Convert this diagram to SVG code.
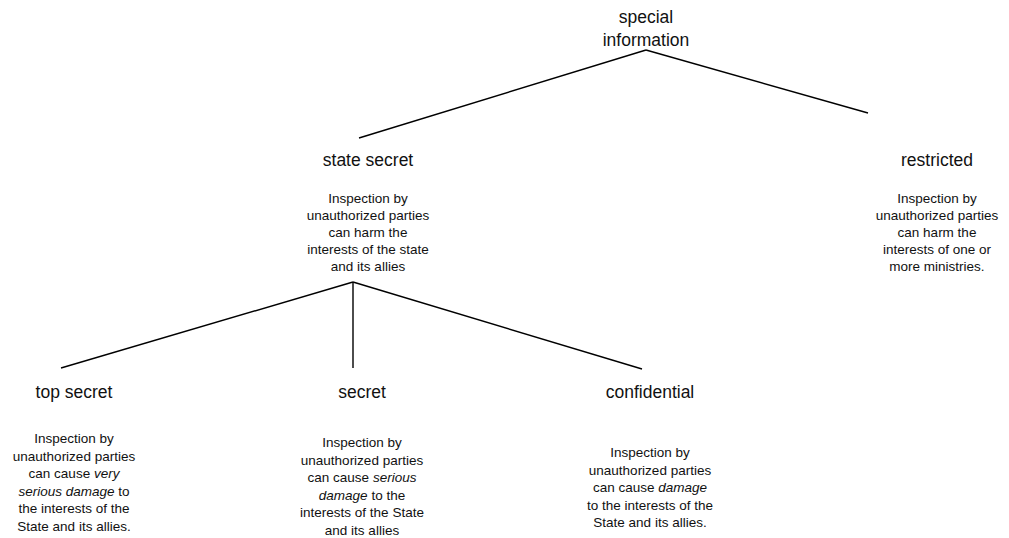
<svg xmlns="http://www.w3.org/2000/svg" width="1009" height="538" viewBox="0 0 1009 538">
  <style>
    text { font-family: "Liberation Sans", Arial, sans-serif; fill: #111; text-anchor: middle; }
    .label { font-size: 17.5px; }
    .body { font-size: 13.5px; }
    .it { font-style: italic; }
    .edge { stroke: #000; stroke-width: 1.4; fill: none; }
  </style>
  <rect width="1009" height="538" fill="#fff"/>

  <!-- connectors -->
  <g id="connectors">
    <line class="edge" x1="646" y1="50" x2="359" y2="138"/>
    <line class="edge" x1="646" y1="50" x2="868" y2="113"/>
    <line class="edge" x1="353" y1="282" x2="61" y2="368"/>
    <line class="edge" x1="353" y1="282" x2="353" y2="368"/>
    <line class="edge" x1="353" y1="282" x2="642" y2="369"/>
  </g>

  <!-- root -->
  <g id="special-information">
    <text class="label" x="646" y="23">special</text>
    <text class="label" x="646" y="46">information</text>
  </g>

  <g id="state-secret">
    <text class="label" x="368" y="166">state secret</text>
    <text class="body" x="368" y="203">Inspection by</text>
    <text class="body" x="368" y="220">unauthorized parties</text>
    <text class="body" x="368" y="237">can harm the</text>
    <text class="body" x="368" y="254">interests of the state</text>
    <text class="body" x="368" y="271">and its allies</text>
  </g>

  <g id="restricted">
    <text class="label" x="937" y="166">restricted</text>
    <text class="body" x="937" y="203">Inspection by</text>
    <text class="body" x="937" y="220">unauthorized parties</text>
    <text class="body" x="937" y="237">can harm the</text>
    <text class="body" x="937" y="254">interests of one or</text>
    <text class="body" x="937" y="271">more ministries.</text>
  </g>

  <g id="top-secret">
    <text class="label" x="74" y="398">top secret</text>
    <text class="body" x="74" y="443">Inspection by</text>
    <text class="body" x="74" y="460.5">unauthorized parties</text>
    <text class="body" x="74" y="478">can cause <tspan class="it">very</tspan></text>
    <text class="body" x="74" y="495.5"><tspan class="it">serious damage</tspan> to</text>
    <text class="body" x="74" y="513">the interests of the</text>
    <text class="body" x="74" y="530.5">State and its allies.</text>
  </g>

  <g id="secret">
    <text class="label" x="362" y="398">secret</text>
    <text class="body" x="362" y="447">Inspection by</text>
    <text class="body" x="362" y="464.5">unauthorized parties</text>
    <text class="body" x="362" y="482">can cause <tspan class="it">serious</tspan></text>
    <text class="body" x="362" y="499.5"><tspan class="it">damage</tspan> to the</text>
    <text class="body" x="362" y="517">interests of the State</text>
    <text class="body" x="362" y="534.5">and its allies</text>
  </g>

  <g id="confidential">
    <text class="label" x="650" y="398">confidential</text>
    <text class="body" x="650" y="457">Inspection by</text>
    <text class="body" x="650" y="474.5">unauthorized parties</text>
    <text class="body" x="650" y="492">can cause <tspan class="it">damage</tspan></text>
    <text class="body" x="650" y="509.5">to the interests of the</text>
    <text class="body" x="650" y="527">State and its allies.</text>
  </g>
</svg>
